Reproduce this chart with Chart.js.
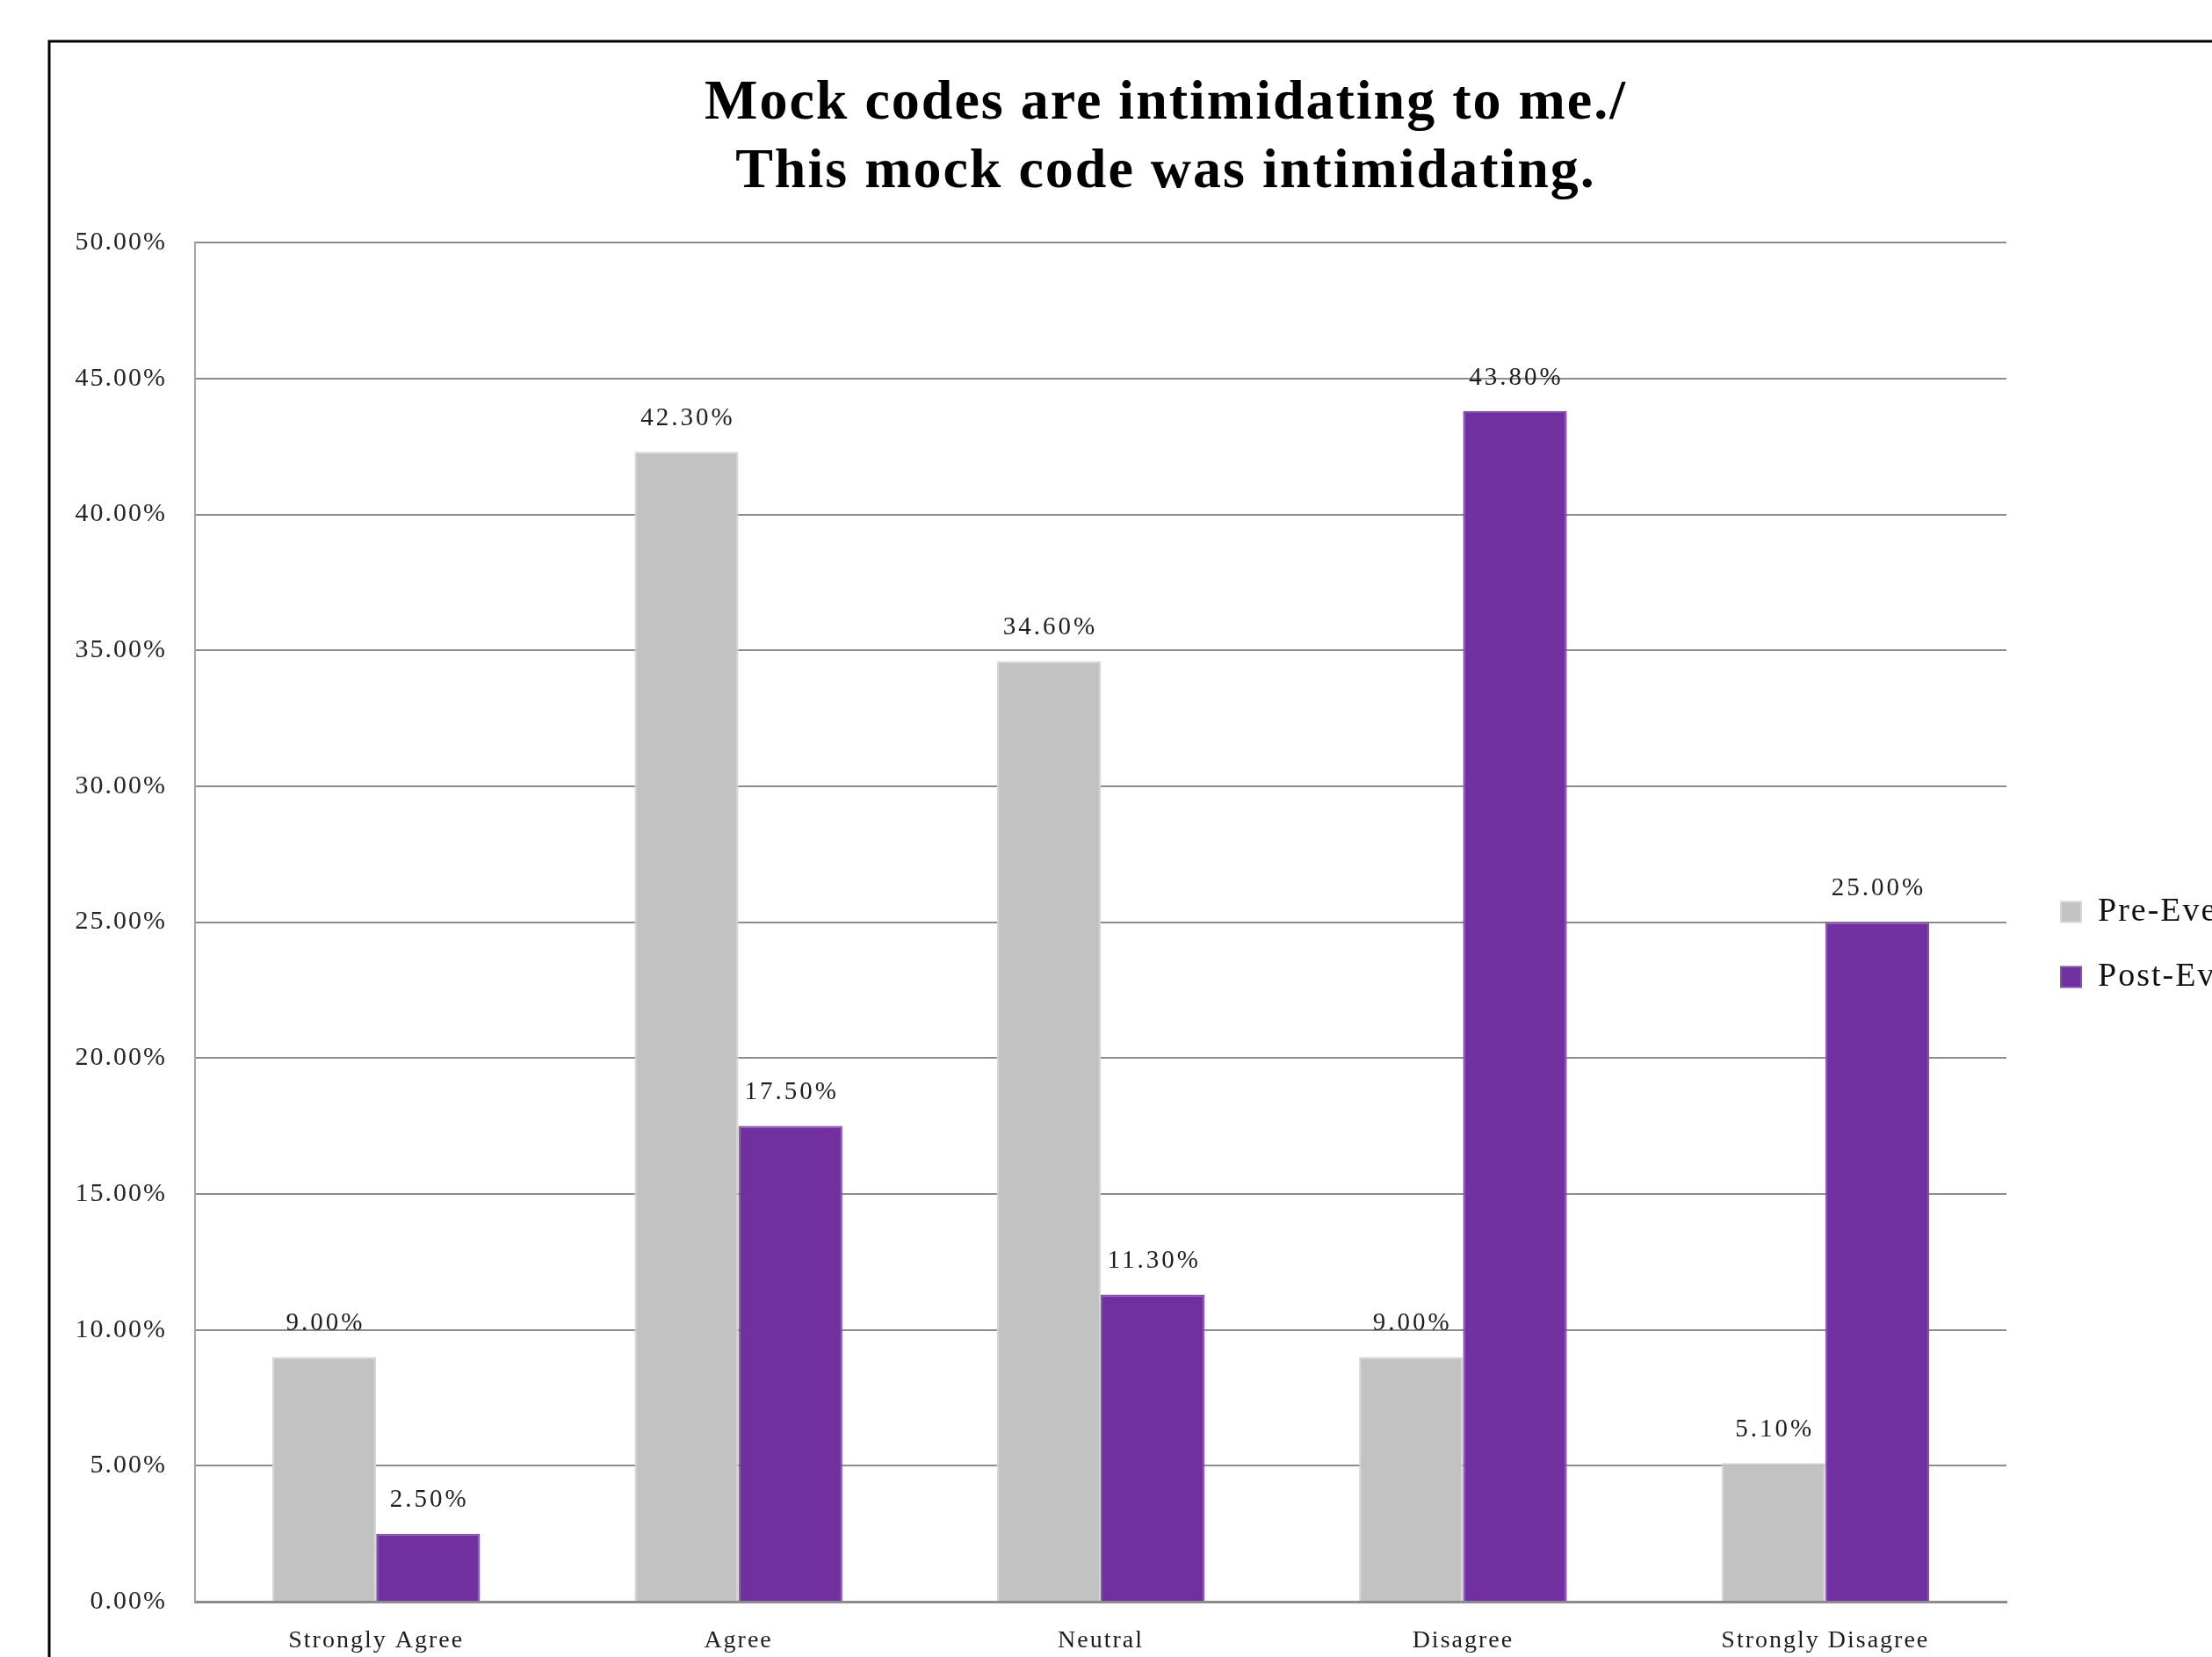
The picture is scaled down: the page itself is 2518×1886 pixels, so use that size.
<!DOCTYPE html>
<html><head><meta charset="utf-8">
<script src="https://cdn.jsdelivr.net/npm/chart.js@4/dist/chart.umd.min.js"></script>
<style>
html,body{margin:0;padding:0;background:#fff;overflow:hidden;width:2518px;height:1886px}
#wrap{position:absolute;left:0;top:0;width:2654px;height:1960px}
canvas{display:block}
</style></head>
<body><div id="wrap"><canvas id="c" width="2654" height="1960" style="width:2654px;height:1960px"></canvas></div>
<script>
// ---- data ----
const titleLines = ['Mock codes are intimidating to me./', 'This mock code was intimidating.'];
const categories = ['Strongly Agree', 'Agree', 'Neutral', 'Disagree', 'Strongly Disagree'];
const seriesNames = ['Pre-Event', 'Post-Event'];
const preEvent = [9.0, 42.3, 34.6, 9.0, 5.1];
const postEvent = [2.5, 17.5, 11.3, 43.8, 25.0];
const yTickValues = [0, 5, 10, 15, 20, 25, 30, 35, 40, 45, 50];

// ---- layout constants ----
const CANVAS_W = 2654, CANVAS_H = 1960;
const PLOT_LEFT = 222, PLOT_RIGHT = 2284, PLOT_BOTTOM = 1823;
const LEGEND_BOX_X = 2346, LEGEND_PAD = 36, LEGEND_TOP = 983;
const SERIF = '"Liberation Serif", "Times New Roman", serif';

const spacingPlugin = {
  id: 'spacing',
  beforeUpdate(chart) { chart.ctx.letterSpacing = '2px'; },
  beforeLayout(chart) { chart.ctx.letterSpacing = '2px'; },
  beforeDraw(chart) {
    const ctx = chart.ctx;
    ctx.letterSpacing = '2px';
    ctx.save();
    ctx.strokeStyle = '#000';
    ctx.lineWidth = 3;
    ctx.strokeRect(56, 47, CANVAS_W - 110, CANVAS_H);
    ctx.restore();
  }
};

const legendPlugin = {
  id: 'legendPlace',
  afterInit(chart) {
    const lg = chart.legend;
    const fit = lg.fit;
    lg.fit = function () { fit.call(this); this.width = CANVAS_W - PLOT_RIGHT; };
  },
  afterLayout(chart) {
    const lg = chart.legend;
    lg.left = LEGEND_BOX_X - LEGEND_PAD;
    lg.right = lg.left + lg.width;
    lg.top = LEGEND_TOP;
    lg.bottom = lg.top + lg.height;
  }
};

const labelPlugin = {
  id: 'dataLabels',
  afterDatasetsDraw(chart) {
    const ctx = chart.ctx;
    ctx.save();
    ctx.letterSpacing = '3px';
    ctx.font = '29px ' + SERIF;
    ctx.fillStyle = '#1e1e1e';
    ctx.textAlign = 'center';
    ctx.textBaseline = 'middle';
    chart.data.datasets.forEach((ds, di) => {
      const meta = chart.getDatasetMeta(di);
      meta.data.forEach((el, i) => {
        ctx.fillText(ds.data[i].toFixed(2) + '%', el.x + 1.5, el.y - 38);
      });
    });
    ctx.restore();
  }
};

new Chart(document.getElementById('c'), {
  type: 'bar',
  data: {
    labels: categories,
    datasets: [
      { label: seriesNames[0], data: preEvent, backgroundColor: '#C3C2C3', borderColor: '#D6D6D6', borderWidth: 2 },
      { label: seriesNames[1], data: postEvent, backgroundColor: '#7030A0', borderColor: '#8350AD', borderWidth: 2 }
    ]
  },
  options: {
    responsive: false,
    animation: false,
    devicePixelRatio: 1,
    layout: { padding: 0 },
    datasets: { bar: { categoryPercentage: 0.5735, barPercentage: 1.0 } },
    plugins: {
      title: {
        display: true,
        text: titleLines,
        color: '#000',
        font: { family: SERIF, size: 64, weight: 'bold', lineHeight: 1.22 },
        padding: { top: 79, bottom: 41 }
      },
      legend: {
        position: 'right',
        align: 'start',
        labels: {
          color: '#111',
          font: { family: SERIF, size: 38 },
          boxWidth: 23, boxHeight: 23,
          padding: LEGEND_PAD
        }
      },
      tooltip: { enabled: false }
    },
    scales: {
      x: {
        grid: { display: false },
        border: { display: true, color: '#8c8c8c', width: 3 },
        ticks: { color: '#1e1e1e', font: { family: SERIF, size: 28 }, padding: 20, maxRotation: 0 },
        afterFit(s) { s.height = CANVAS_H - PLOT_BOTTOM; }
      },
      y: {
        min: 0, max: 50,
        afterBuildTicks(s) { s.ticks = yTickValues.map(v => ({ value: v })); },
        grid: { color: '#8c8c8c', lineWidth: 2, drawTicks: false },
        border: { display: true, color: '#a6a6a6', width: 2 },
        ticks: {
          color: '#262626', font: { family: SERIF, size: 30 }, padding: 32,
          callback: v => Number(v).toFixed(2) + '%'
        },
        afterFit(s) { s.width = PLOT_LEFT; }
      }
    }
  },
  plugins: [spacingPlugin, legendPlugin, labelPlugin]
});
</script>
</body></html>
